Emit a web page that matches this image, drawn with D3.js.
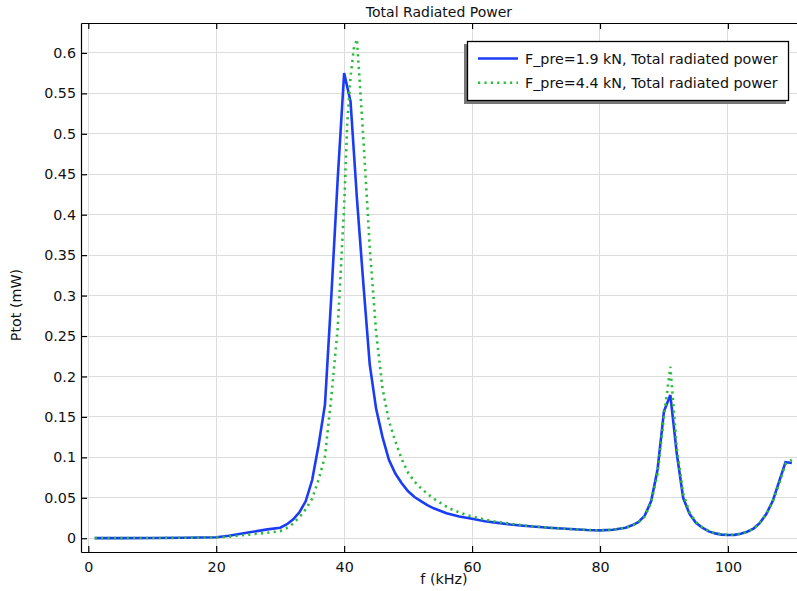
<!DOCTYPE html>
<html><head><meta charset="utf-8">
<script src="https://cdn.jsdelivr.net/npm/d3@7"></script>
<style>body{margin:0;background:#fff}svg{display:block;font-family:"DejaVu Sans",sans-serif}</style>
</head><body><svg id="c" width="797" height="591"></svg>
<script>
const title = "Total Radiated Power";
const xLabel = "f (kHz)";
const yLabel = "Ptot (mW)";
const seriesNames = ["F_pre=1.9 kN, Total radiated power", "F_pre=4.4 kN, Total radiated power"];
const xTicks = [0, 20, 40, 60, 80, 100];
const yTicks = [0, 0.05, 0.1, 0.15, 0.2, 0.25, 0.3, 0.35, 0.4, 0.45, 0.5, 0.55, 0.6];

const freqBlue = [1,5,10,15,20,22,25,28,30,31,32,33,34,35,36,37,38,39,40,41,42,43,44,45,46,47,48,49,50,51,52,53,54,55,56,58,60,62,64,66,68,70,72,74,76,78,80,82,84,85,86,87,88,89,90,91,92,93,94,95,96,97,98,99,100,101,102,103,104,105,106,107,108,109,110];
const powerBlue = [0.0001,0.0002,0.0004,0.0007,0.0013,0.003,0.007,0.011,0.013,0.017,0.023,0.032,0.046,0.072,0.115,0.165,0.30,0.445,0.575,0.54,0.42,0.315,0.215,0.16,0.125,0.097,0.080,0.068,0.058,0.051,0.046,0.041,0.037,0.034,0.031,0.027,0.024,0.021,0.019,0.017,0.0155,0.0142,0.013,0.012,0.0112,0.0102,0.0097,0.0105,0.013,0.016,0.02,0.028,0.046,0.085,0.157,0.177,0.105,0.05,0.03,0.019,0.013,0.0085,0.006,0.0045,0.004,0.0042,0.0055,0.008,0.012,0.019,0.03,0.046,0.07,0.094,0.093];

const freqGreen = [1,5,10,15,20,22,25,28,30,31,32,33,34,35,36,37,38,39,40,40.5,41,41.5,42,43,44,45,46,47,48,49,50,51,52,53,54,55,56,57,58,59,60,62,64,66,68,70,72,74,76,78,80,82,84,85,86,87,88,89,90,91,92,93,94,95,96,97,98,99,100,101,102,103,104,105,106,107,108,109,110];
const powerGreen = [0.0001,0.0002,0.0003,0.0006,0.0011,0.002,0.0045,0.0068,0.0088,0.0125,0.018,0.026,0.036,0.049,0.072,0.101,0.175,0.26,0.41,0.515,0.57,0.605,0.617,0.495,0.36,0.255,0.185,0.145,0.12,0.098,0.081,0.07,0.062,0.055,0.049,0.044,0.039,0.035,0.032,0.029,0.027,0.023,0.020,0.018,0.016,0.0145,0.013,0.012,0.011,0.0103,0.0098,0.0105,0.0128,0.0155,0.0195,0.027,0.044,0.08,0.15,0.212,0.112,0.055,0.032,0.02,0.0135,0.009,0.0063,0.0048,0.0042,0.0043,0.0055,0.0078,0.012,0.019,0.03,0.045,0.067,0.092,0.097];

const colors = ["#1a3cf5", "#2dbb3c"];
const fs = "14.3px";

const svg = d3.select("#c");
const L = 81, R = 797, T = 23, B = 552;
const x = d3.scaleLinear().domain([-1.14, 110.8]).range([L, R]);
const y = d3.scaleLinear().domain([-0.017, 0.637]).range([B, T]);

// grid
const g = svg.append("g");
g.selectAll(".gx").data(xTicks).join("line")
  .attr("x1", d => x(d)).attr("x2", d => x(d)).attr("y1", T).attr("y2", B)
  .attr("stroke", "#dcdcdc").attr("stroke-width", 1).attr("shape-rendering","crispEdges");
g.selectAll(".gy").data(yTicks).join("line")
  .attr("x1", L).attr("x2", R).attr("y1", d => y(d)).attr("y2", d => y(d))
  .attr("stroke", "#dcdcdc").attr("stroke-width", 1).attr("shape-rendering","crispEdges");

// data
svg.append("clipPath").attr("id","pc").append("rect").attr("x",L).attr("y",T).attr("width",R-L).attr("height",B-T);
const line = d3.line().x(d => x(d[0])).y(d => y(d[1]));
const blueData = freqBlue.map((f,i) => [f, powerBlue[i]]);
const greenData = freqGreen.map((f,i) => [f, powerGreen[i]]);
const pg = svg.append("g").attr("clip-path","url(#pc)");
pg.append("path").datum(blueData).attr("d", line).attr("fill","none")
  .attr("stroke", colors[0]).attr("stroke-width", 2.6).attr("stroke-linejoin","miter");
pg.append("path").datum(greenData).attr("d", line).attr("fill","none")
  .attr("stroke", colors[1]).attr("stroke-width", 2.6).attr("stroke-dasharray","2.2,4.2").attr("stroke-linejoin","miter");

// axes
const axB = svg.append("g").attr("transform", `translate(0,${B})`)
  .call(d3.axisBottom(x).tickValues(xTicks).tickSizeInner(-6).tickSizeOuter(0).tickPadding(9.5));
const axT = svg.append("g").attr("transform", `translate(0,${T})`)
  .call(d3.axisTop(x).tickValues(xTicks).tickSizeInner(-6).tickSizeOuter(0).tickFormat(""));
const axL = svg.append("g").attr("transform", `translate(${L},0)`)
  .call(d3.axisLeft(y).tickValues(yTicks).tickSizeInner(-6).tickSizeOuter(0).tickPadding(5).tickFormat(d => d3.format("")(+d.toFixed(2))));
[axB, axT, axL].forEach(a => {
  a.select(".domain").attr("stroke","#000").attr("stroke-width",1.2);
  a.selectAll(".tick line").attr("stroke","#000").attr("stroke-width",1.2);
  a.selectAll("text").attr("fill","#111").style("font-size",fs).style("font-family","DejaVu Sans");
});

// title & labels
svg.append("text").attr("x", (L+R)/2).attr("y", 17).attr("text-anchor","middle")
  .style("font-size","14px").attr("fill","#111").text(title);
svg.append("text").attr("x", 444).attr("y", 584).attr("text-anchor","middle")
  .style("font-size",fs).attr("fill","#111").text(xLabel);
svg.append("text").attr("transform","translate(21,305) rotate(-90)").attr("text-anchor","middle")
  .style("font-size",fs).attr("fill","#111").text(yLabel);

// legend
const lg = svg.append("g");
lg.append("rect").attr("x", 464).attr("y", 44).attr("width", 322).attr("height", 60).attr("fill","#777");
lg.append("rect").attr("x", 467.5).attr("y", 41.5).attr("width", 321).attr("height", 59)
  .attr("fill","#fff").attr("stroke","#000").attr("stroke-width",1.3);
seriesNames.forEach((s,i) => {
  const yy = 58.5 + i*24.3;
  lg.append("line").attr("x1",478).attr("x2",518).attr("y1",yy).attr("y2",yy)
    .attr("stroke", colors[i]).attr("stroke-width", 2.6)
    .attr("stroke-dasharray", i===1 ? "2.2,4.2" : null);
  lg.append("text").attr("x",525).attr("y",yy+5).style("font-size",fs).attr("fill","#111").text(s);
});
</script></body></html>
